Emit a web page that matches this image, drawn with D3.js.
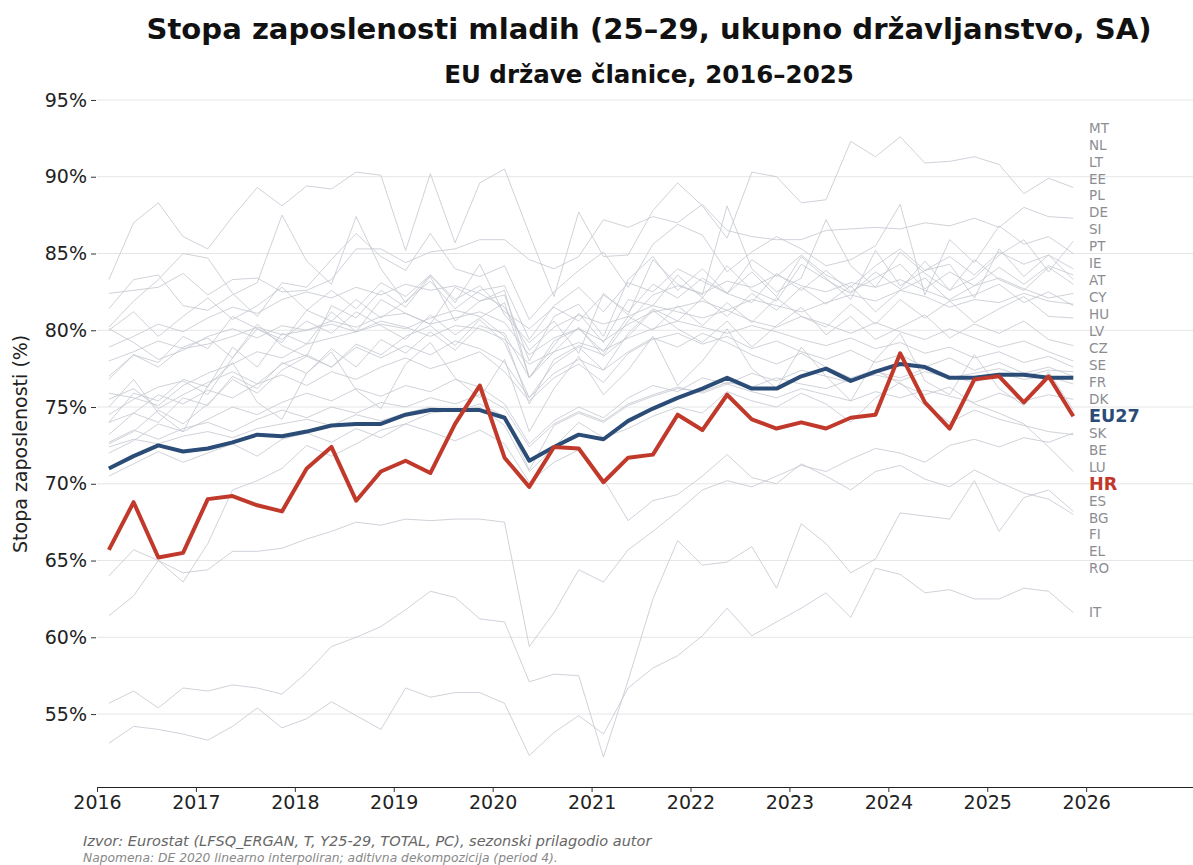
<!DOCTYPE html>
<html>
<head>
<meta charset="utf-8">
<script src="https://cdn.jsdelivr.net/npm/d3@7"></script>
<style>
  body { margin: 0; background: #fff; }
  text { font-family: "DejaVu Sans", sans-serif; }
</style>
</head>
<body>
<svg id="chart" width="1193" height="865"></svg>
<script>
// quarterly periods 2016Q1 .. 2025Q4
const years = d3.range(2016, 2026);
const periods = years.flatMap(y => [1, 2, 3, 4].map(q => ({year: y, q: q})));

const yTicks = [55, 60, 65, 70, 75, 80, 85, 90, 95];
const xTicks = [2016, 2017, 2018, 2019, 2020, 2021, 2022, 2023, 2024, 2025, 2026];

const HR = [65.7,68.8,65.2,65.5,69.0,69.2,68.6,68.2,71.0,72.4,68.9,70.8,71.5,70.7,73.9,76.4,71.7,69.8,72.4,72.3,
            70.1,71.7,71.9,74.5,73.5,75.8,74.2,73.6,74.0,73.6,74.3,74.5,78.5,75.3,73.6,76.8,77.0,75.3,77.0,74.4];
const EU27 = [71.0,71.8,72.5,72.1,72.3,72.7,73.2,73.1,73.4,73.8,73.9,73.9,74.5,74.8,74.8,74.8,74.3,71.5,72.4,73.2,
              72.9,74.1,74.9,75.6,76.2,76.9,76.2,76.2,77.0,77.5,76.7,77.3,77.8,77.6,76.9,76.9,77.1,77.1,76.9,76.9];

const countries = ["MT","NL","LT","EE","PL","DE","SI","PT","IE","AT","CY","HU","LV","CZ","SE","FR","DK",
                   "SK","BE","LU","ES","BG","FI","EL","RO","IT"];
const countryValues = [
  [83.3,87.0,88.3,86.1,85.3,87.4,89.3,88.1,89.4,89.2,90.3,90.1,85.2,90.2,85.7,89.6,90.5,86.3,82.2,87.7,84.8,84.9,87.8,89.6,88.1,86.0,90.3,90.0,88.3,88.5,92.3,91.3,92.6,90.9,91.0,91.3,90.8,88.9,89.9,89.3],
  [82.4,82.6,82.8,83.7,82.3,83.3,83.4,82.5,82.6,83.3,85.3,85.3,84.4,85.1,85.3,85.9,85.9,84.6,84.0,84.8,87.2,86.7,87.4,87.0,88.2,86.5,86.1,85.9,85.9,86.5,86.6,86.7,86.6,87.0,86.8,87.3,86.7,88.0,87.4,87.3],
  [81.4,83.3,83.6,81.6,81.3,82.3,83.1,87.5,84.5,83.0,87.4,84.0,81.8,83.6,81.8,84.3,81.0,79.2,80.6,78.5,82.4,81.0,84.6,83.0,82.3,88.1,84.0,82.5,83.4,87.2,84.2,82.8,85.1,83.7,82.6,83.4,84.9,85.9,83.8,85.8],
  [80.2,81.9,83.3,85.0,84.7,82.4,80.9,83.1,82.8,84.6,86.3,84.8,83.9,86.3,84.0,83.5,84.2,80.7,82.5,83.9,85.1,82.8,85.6,86.9,86.2,83.8,85.1,86.1,85.3,84.2,84.6,85.5,88.2,82.3,85.9,84.4,86.8,85.6,86.1,85.0],
  [76.8,78.4,77.9,79.6,78.8,80.9,80.1,79.2,81.3,80.6,82.0,80.8,81.9,83.2,81.4,82.6,82.9,79.4,81.6,82.8,81.2,83.1,82.5,84.0,83.2,82.4,84.6,83.5,84.9,83.6,82.8,84.2,85.3,83.9,84.8,83.6,85.1,84.3,84.9,84.0],
  [80.0,81.2,79.6,80.9,82.1,80.7,81.6,82.8,81.3,82.6,81.4,83.1,82.2,83.6,82.0,82.9,81.2,80.1,81.5,80.6,82.3,81.2,83.0,82.1,83.4,82.4,81.8,83.7,82.6,83.9,82.5,83.4,84.3,82.7,83.8,82.9,84.1,83.0,84.2,83.6],
  [74.5,75.5,76.3,76.7,75.8,78.2,80.4,79.0,78.3,81.6,80.8,82.6,81.5,83.5,80.6,81.9,82.3,78.0,80.9,81.7,79.6,83.3,84.8,82.6,84.0,82.4,83.8,82.2,84.8,83.4,82.0,85.2,82.9,83.9,84.3,82.1,85.3,83.5,84.9,83.3],
  [74.0,75.9,75.4,76.8,76.3,78.9,77.6,79.8,79.1,81.2,79.9,82.0,81.1,80.4,82.8,81.9,82.6,76.9,79.0,81.1,79.2,82.0,81.6,83.6,82.1,84.2,82.6,81.9,84.3,83.3,82.4,83.8,82.7,84.5,82.6,84.6,83.3,82.6,84.1,83.0],
  [75.9,75.6,75.1,76.4,77.2,77.8,78.6,78.2,79.1,79.5,79.9,80.4,80.1,80.8,81.3,80.9,79.6,75.2,78.1,79.0,78.4,80.6,82.3,82.9,82.4,83.2,82.8,83.6,82.9,82.5,83.1,82.8,83.3,82.6,82.0,82.9,83.4,82.7,82.1,82.4],
  [80.1,79.2,78.1,78.7,79.6,80.1,79.5,80.3,80.0,80.6,80.2,80.9,81.1,80.4,80.8,81.2,80.5,78.4,79.5,80.1,79.3,80.4,81.2,81.5,81.9,81.3,82.0,81.6,81.2,81.8,82.3,81.9,82.6,82.2,81.5,82.0,81.8,82.4,81.9,81.7],
  [72.6,73.4,74.8,73.9,75.2,76.8,75.9,77.4,78.3,77.6,79.1,78.4,79.6,80.3,79.0,80.7,79.2,75.6,77.8,78.9,77.4,79.8,81.4,80.6,82.1,80.9,82.4,81.3,82.8,81.7,82.9,81.2,82.6,83.4,81.9,82.3,83.0,81.8,82.5,81.6],
  [73.2,74.6,74.0,75.6,75.1,77.0,76.2,77.9,77.2,78.8,77.6,79.4,78.5,79.9,78.7,80.3,79.8,76.9,79.3,80.1,78.6,80.9,80.0,81.6,80.3,81.8,80.5,82.1,80.9,80.2,81.7,80.4,82.0,80.8,81.9,80.5,81.4,82.2,80.9,80.8],
  [77.0,78.4,77.6,78.9,79.5,78.2,80.1,79.4,80.6,79.8,81.2,80.3,79.4,81.0,79.7,80.8,81.8,76.9,78.6,80.2,78.3,79.6,81.3,80.1,79.2,80.6,78.9,80.3,81.5,79.7,80.9,79.4,80.2,81.0,79.5,80.4,79.8,80.6,79.4,79.0],
  [78.9,79.6,80.4,79.9,80.8,81.5,81.1,82.0,82.5,82.1,82.8,82.3,83.0,82.6,82.9,82.4,81.5,78.7,80.2,81.0,80.4,80.9,81.6,81.2,80.8,81.3,80.6,80.2,80.9,80.4,79.8,80.5,79.9,79.4,80.1,79.5,78.9,79.3,78.6,78.0],
  [78.0,78.6,79.3,78.8,79.1,79.6,80.2,79.7,80.0,80.4,79.9,80.6,80.2,79.6,80.3,80.1,79.4,77.8,78.6,79.2,78.7,79.5,80.1,80.6,80.2,79.8,80.3,79.9,79.4,79.0,79.5,78.8,79.2,78.5,78.9,78.2,78.6,77.9,78.3,77.6],
  [72.4,72.9,72.6,73.1,73.4,73.0,73.6,73.9,74.2,73.8,74.5,74.1,74.6,75.0,74.7,75.2,74.4,70.9,73.8,74.6,74.0,75.1,75.7,76.2,76.0,76.6,76.3,76.9,76.5,76.2,76.8,77.1,76.7,77.3,76.9,77.2,77.5,77.0,77.4,77.3],
  [74.0,74.6,75.8,75.2,76.1,75.6,76.5,77.1,76.4,77.3,76.8,77.6,78.2,77.5,78.0,78.6,77.3,75.4,76.9,77.8,76.6,78.5,79.4,79.8,79.1,79.6,78.8,79.3,78.6,78.1,78.7,77.9,78.4,77.6,78.2,77.4,77.9,77.2,77.6,77.0],
  [72.0,72.8,73.9,73.4,74.2,75.0,74.5,75.3,75.9,75.4,76.2,75.7,76.4,76.0,76.8,76.3,75.2,72.6,74.1,75.0,74.3,75.6,76.4,76.0,76.9,76.5,77.2,76.7,77.4,77.0,76.6,77.3,76.9,77.5,77.0,76.6,77.2,76.8,77.0,76.5],
  [72.7,73.5,72.9,73.6,74.0,73.4,74.2,74.8,74.3,75.0,74.6,75.3,75.0,75.6,75.2,75.8,74.9,72.4,73.9,74.7,74.1,75.2,75.8,76.3,75.9,76.5,76.0,75.6,76.2,75.8,75.4,76.0,75.6,76.1,75.7,75.3,75.9,75.4,75.8,75.5],
  [75.0,76.8,74.6,73.4,76.4,77.9,75.3,74.2,77.2,78.6,76.1,74.9,77.8,79.2,76.9,75.6,78.1,73.4,76.2,78.3,75.8,77.4,79.6,76.4,78.0,80.1,77.5,76.2,78.9,77.0,75.4,78.1,79.8,76.7,75.8,78.4,76.2,75.1,77.3,74.8],
  [64.0,65.7,65.0,64.2,64.4,65.6,65.6,65.8,66.4,66.9,67.5,67.3,67.7,67.6,67.7,67.7,67.5,59.4,61.6,64.4,63.6,65.7,66.9,68.2,69.6,70.2,69.8,70.5,71.2,70.8,71.6,72.3,72.0,71.4,72.5,72.9,72.4,73.0,72.7,73.3],
  [61.4,62.7,65.0,63.6,66.1,69.6,70.2,71.0,72.5,71.8,72.6,73.5,73.9,74.6,74.8,75.0,73.8,70.8,72.4,74.0,73.0,73.6,74.4,75.0,74.6,76.0,75.4,75.0,75.9,75.2,74.0,75.6,76.6,75.1,74.0,74.8,74.2,73.8,73.4,73.2],
  [75.5,76.2,74.9,75.8,76.6,77.3,76.5,77.8,78.4,77.6,78.9,78.2,79.0,78.4,79.3,78.8,77.9,75.6,77.2,78.1,77.4,78.6,79.5,78.9,79.8,79.2,78.4,77.8,78.5,77.6,76.9,77.4,76.5,75.8,76.3,75.2,74.6,73.9,72.4,70.8],
  [55.7,56.5,55.4,56.7,56.5,56.9,56.7,56.3,57.7,59.4,60.0,60.7,61.8,63.0,62.6,61.2,61.0,57.1,57.6,57.5,52.2,57.2,62.5,66.3,64.7,64.9,65.9,63.2,67.4,66.1,64.2,65.1,68.1,67.9,67.7,70.2,66.9,69.1,69.6,68.2],
  [70.5,71.3,72.1,71.4,72.0,72.6,71.8,72.9,73.3,72.7,73.6,73.0,73.9,73.4,72.8,73.5,72.6,70.1,71.4,72.2,70.3,67.6,68.9,69.3,70.5,71.9,70.4,70.0,71.3,70.5,69.6,70.8,71.2,70.3,69.8,70.9,70.1,69.4,69.0,68.0],
  [53.1,54.2,54.0,53.7,53.3,54.2,55.4,54.1,54.7,55.8,54.9,54.0,56.7,56.1,56.4,56.4,55.7,52.3,53.8,54.9,53.7,56.7,58.0,58.8,60.1,61.9,60.1,61.0,61.9,62.9,61.3,64.5,64.1,62.9,63.1,62.5,62.5,63.2,63.0,61.6]
];

const width = 1193, height = 865;
const margin = {top: 80, right: 0, bottom: 78, left: 97};
const svg = d3.select("#chart");

const x = d3.scaleLinear()
  .domain([2016, 2027.08])
  .range([margin.left, width - margin.right]);
const y = d3.scaleLinear()
  .domain([50.25, 96.3])
  .range([height - margin.bottom, margin.top]);

const tPos = p => p.year + (p.q - 1) / 4 + 0.12;

// grid
svg.append("g")
  .selectAll("line")
  .data(yTicks)
  .join("line")
  .attr("x1", margin.left).attr("x2", width - margin.right)
  .attr("y1", d => y(d)).attr("y2", d => y(d))
  .attr("stroke", "#e6e6e6").attr("stroke-width", 1);

// y axis (no spine)
const yAxis = svg.append("g")
  .attr("transform", "translate(" + (margin.left - 1) + ",0)")
  .call(d3.axisLeft(y).tickValues(yTicks).tickFormat(d => d + "%").tickSize(5).tickPadding(4));
yAxis.select(".domain").remove();
yAxis.selectAll(".tick line").attr("stroke", "#333");
yAxis.selectAll(".tick text").attr("font-size", 19).attr("fill", "#222")
  .attr("font-family", "DejaVu Sans, sans-serif");

// x axis
const xAxis = svg.append("g")
  .attr("transform", "translate(0," + (height - margin.bottom) + ")")
  .call(d3.axisBottom(x).tickValues(xTicks).tickFormat(d3.format("d")).tickSize(5).tickSizeOuter(0).tickPadding(4));
xAxis.select(".domain").attr("stroke", "#222").attr("stroke-width", 1.2);
xAxis.selectAll(".tick line").attr("stroke", "#333");
xAxis.selectAll(".tick text").attr("font-size", 19).attr("fill", "#222")
  .attr("font-family", "DejaVu Sans, sans-serif");

const line = d3.line()
  .x((d, i) => x(tPos(periods[i])))
  .y(d => y(d));

// country lines
svg.append("g")
  .selectAll("path")
  .data(countryValues)
  .join("path")
  .attr("d", d => line(d))
  .attr("fill", "none")
  .attr("stroke", "#c3c7cf")
  .attr("stroke-opacity", 0.8)
  .attr("stroke-width", 1);

svg.append("path")
  .attr("d", line(EU27))
  .attr("fill", "none")
  .attr("stroke", "#2b4c77")
  .attr("stroke-width", 4)
  .attr("stroke-linejoin", "round");

svg.append("path")
  .attr("d", line(HR))
  .attr("fill", "none")
  .attr("stroke", "#c0392b")
  .attr("stroke-width", 4)
  .attr("stroke-linejoin", "round");

// end labels, spread apart so they do not overlap
const labels = countries.map((c, i) => ({name: c, value: countryValues[i][countryValues[i].length - 1], kind: "c"}))
  .concat([{name: "EU27", value: EU27[EU27.length - 1], kind: "eu"},
           {name: "HR", value: HR[HR.length - 1], kind: "hr"}]);
labels.forEach(d => d.target = y(d.value));
labels.sort((a, b) => a.target - b.target);

const gap = 16.95;
let clusters = [];
labels.forEach(d => {
  clusters.push({items: [d], top: d.target});
  while (clusters.length > 1) {
    const cur = clusters[clusters.length - 1];
    const prev = clusters[clusters.length - 2];
    if (prev.top + prev.items.length * gap > cur.top) {
      const items = prev.items.concat(cur.items);
      const top = d3.mean(items, (it, k) => it.target - k * gap);
      clusters.splice(clusters.length - 2, 2, {items: items, top: top});
    } else break;
  }
});
clusters.forEach(cl => cl.items.forEach((it, k) => it.ly = cl.top + k * gap));

svg.append("g")
  .selectAll("text")
  .data(labels)
  .join("text")
  .attr("x", 1089)
  .attr("y", d => d.ly)
  .attr("dy", "0.35em")
  .attr("font-size", d => d.kind === "c" ? 13.5 : 17.6)
  .attr("font-weight", d => d.kind === "c" ? "normal" : "bold")
  .attr("fill", d => d.kind === "eu" ? "#2b4c77" : d.kind === "hr" ? "#c0392b" : "#8b8d93")
  .text(d => d.name);

// axis title
svg.append("text")
  .attr("transform", "translate(27," + y(72.6) + ") rotate(-90)")
  .attr("text-anchor", "middle")
  .attr("font-size", 19)
  .attr("fill", "#222")
  .text("Stopa zaposlenosti (%)");

// titles
svg.append("text")
  .attr("x", 649).attr("y", 38.5)
  .attr("text-anchor", "middle")
  .attr("font-size", 29.1).attr("font-weight", "bold").attr("fill", "#111")
  .text("Stopa zaposlenosti mladih (25–29, ukupno državljanstvo, SA)");
svg.append("text")
  .attr("x", 649).attr("y", 83)
  .attr("text-anchor", "middle")
  .attr("font-size", 24.5).attr("font-weight", "bold").attr("fill", "#111")
  .text("EU države članice, 2016–2025");

// footer
svg.append("text")
  .attr("x", 83).attr("y", 846)
  .attr("font-size", 14.5).attr("font-style", "italic").attr("fill", "#666")
  .text("Izvor: Eurostat (LFSQ_ERGAN, T, Y25-29, TOTAL, PC), sezonski prilagodio autor");
svg.append("text")
  .attr("x", 83).attr("y", 862)
  .attr("font-size", 12.3).attr("font-style", "italic").attr("fill", "#888")
  .text("Napomena: DE 2020 linearno interpoliran; aditivna dekompozicija (period 4).");
</script>
</body>
</html>
